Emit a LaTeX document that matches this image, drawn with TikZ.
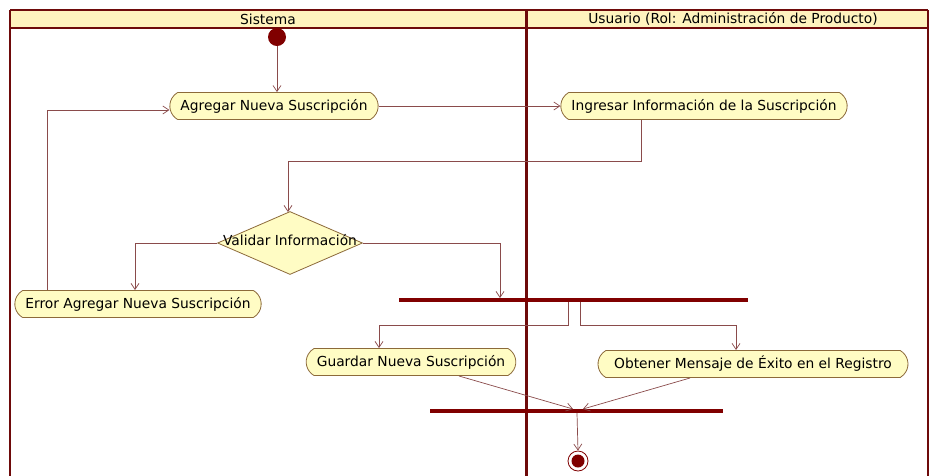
\documentclass[tikz,border=0pt]{standalone}
\usepackage{fontspec}
\setmainfont{DejaVu Sans}
\usetikzlibrary{shapes.geometric,shapes.misc,arrows.meta}
\definecolor{lane}{HTML}{6E0A0A}
\definecolor{conn}{HTML}{8A4B4B}
\definecolor{nodeline}{HTML}{8C6A3A}
\definecolor{nodefill}{HTML}{FFFCC4}
\definecolor{headfill}{HTML}{FFF3BE}
\definecolor{dot}{HTML}{800000}
\begin{document}
\begin{tikzpicture}[x=1pt,y=-1pt,
  act/.style={draw=nodeline,fill=nodefill,rounded rectangle,rounded rectangle arc length=120,line width=0.8pt,minimum height=27pt,inner xsep=9pt,font=\fontsize{13.8}{15}\selectfont},
  dec/.style={draw=nodeline,fill=nodefill,diamond,aspect=2.3,inner sep=0pt,minimum width=145pt,minimum height=63pt,line width=0.8pt},
  flow/.style={draw=conn,line width=0.7pt,-{Straight Barb[length=6pt,width=8pt]}},
  bar/.style={draw=dot,line width=4pt},
  hdr/.style={font=\fontsize{13.8}{15}\selectfont}]
\useasboundingbox (0,0) rectangle (930,475);
\fill[white] (0,0) rectangle (930,475);
% swimlanes
\fill[headfill] (10,10) rectangle (928,28);
\draw[lane,line width=1.2pt] (10,10) -- (928,10);
\draw[lane,line width=1.2pt] (10,28) -- (928,28);
\draw[lane,line width=2pt] (10,10) -- (10,476);
\draw[lane,line width=2pt] (928,10) -- (928,476);
\draw[lane,line width=3pt] (526,10) -- (526,476);
\node[hdr] (h1) at (268,19) {Sistema};
\node[hdr] (h2) at (733,19) {Usuario (Rol: Administración de Producto)};
% nodes
\node[circle,fill=dot,minimum size=18pt,inner sep=0pt] (start) at (277,37) {};
\node[act] (agregar) at (274,106) {Agregar Nueva Suscripción};
\node[act] (ingresar) at (704,106) {Ingresar Información de la Suscripción};
\node[dec] (validar) at (290,243) {};
\node[font=\fontsize{13.8}{15}\selectfont] (vtext) at (290,240) {Validar Información};
\node[act] (error) at (138,304) {Error Agregar Nueva Suscripción};
\node[act] (guardar) at (411,362) {Guardar Nueva Suscripción};
\node[act,inner xsep=14pt] (obtener) at (753,364) {Obtener Mensaje de Éxito en el Registro};
\coordinate (f1a) at (399,300);
\coordinate (f1b) at (748,300);
\draw[bar] (f1a) -- (f1b);
\coordinate (f2a) at (430,411);
\coordinate (f2b) at (723,411);
\draw[bar] (f2a) -- (f2b);
\node[circle,draw=dot,line width=0.8pt,fill=white,minimum size=20pt,inner sep=0pt] (end) at (578,461) {};
\node[circle,fill=dot,minimum size=13pt,inner sep=0pt] at (end) {};
% connectors
\draw[flow] (start) -- (start |- agregar.north);
\draw[flow] (agregar.east) -- (ingresar.west);
\draw[flow] (ingresar.south -| 641,0) -- (641,161) -- (288,161) -- (288,212);
\draw[flow] (validar.west) -- (135,243) -- (135,290);
\draw[flow] (validar.east) -- (500,243) -- (500,298);
\draw[flow] (47,290) -- (47,110) -- (agregar.west |- 0,110);
\draw[flow] (568,302) -- (568,325) -- (379,325) -- (379,348);
\draw[flow] (580,302) -- (580,325) -- (736,325) -- (736,350);
\draw[flow] (459,376) -- (573,409);
\draw[flow] (690,378) -- (583,409);
\draw[flow] (577,413) -- (end.north);
\end{tikzpicture}
\end{document}
